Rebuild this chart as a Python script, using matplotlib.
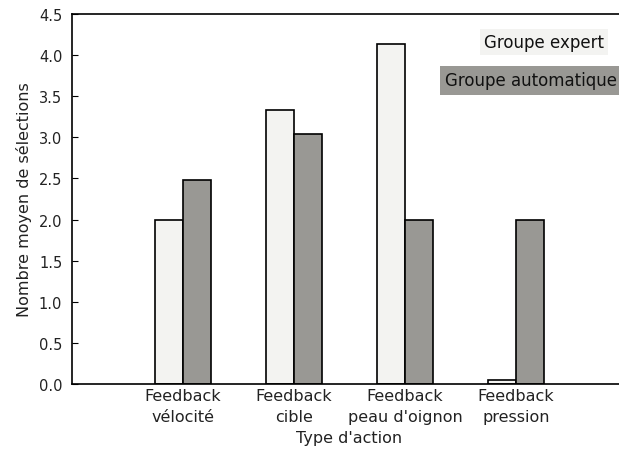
import numpy as np
import matplotlib
matplotlib.use('Agg')
import matplotlib.pyplot as plt

categories = ['Feedback\nvélocité', 'Feedback\ncible', "Feedback\npeau d'oignon", 'Feedback\npression']
expert = [2.0, 3.33, 4.13, 0.05]
automatique = [2.48, 3.04, 2.0, 2.0]
series_names = ['Groupe expert', 'Groupe automatique']
colors = ['#f3f3f1', '#999894']

fig = plt.figure(figsize=(6.19, 4.56), dpi=100)
ax = fig.add_axes([72 / 619, 1 - 385 / 456, 555 / 619, 370 / 456])

ind = np.arange(1, len(categories) + 1)
width = 0.25
ax.bar(ind - width, expert, width, align='edge', color=colors[0], edgecolor='black', linewidth=1.2)
ax.bar(ind, automatique, width, align='edge', color=colors[1], edgecolor='black', linewidth=1.2)

ax.set_xlim(0, 5)
ax.set_ylim(0, 4.5)
ax.set_yticks(np.arange(0, 4.51, 0.5))
ax.set_xticks(ind)
ax.set_xticklabels(categories, fontsize=11.5, color='#222222', linespacing=1.5)
ax.tick_params(axis='y', direction='in', length=4, pad=7, labelsize=10.5, labelcolor='#222222')
ax.tick_params(axis='x', length=0, pad=3)
for sp in ax.spines.values():
    sp.set_linewidth(1.2)

ax.set_xlabel("Type d'action", fontsize=11.5, color='#222222', labelpad=4)
ax.set_ylabel('Nombre moyen de sélections', fontsize=11.5, color='#222222', labelpad=5)

# legend drawn as coloured text labels
ax.text(604 / 619, 1 - 43 / 456, series_names[0], transform=fig.transFigure,
        ha='right', va='center', fontsize=12, color='#111111',
        bbox=dict(facecolor=colors[0], edgecolor='none', pad=3))
ax.text(617 / 619, 1 - 81 / 456, series_names[1], transform=fig.transFigure,
        ha='right', va='center', fontsize=12, color='#111111',
        bbox=dict(facecolor=colors[1], edgecolor='none', pad=4))

fig.savefig('out.png', dpi=100)
